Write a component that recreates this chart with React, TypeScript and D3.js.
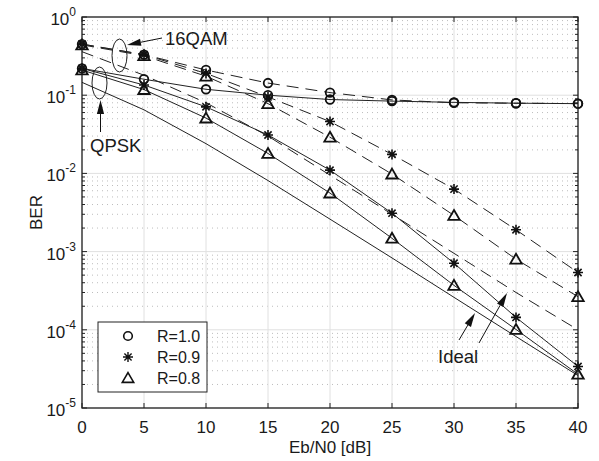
import * as d3 from "d3";
import { useEffect, useRef } from "react";

// Eb/N0 points (dB)
const ebn0 = [0, 5, 10, 15, 20, 25, 30, 35, 40];

// 16QAM (dashed)
const qam16R10 = [0.45, 0.33, 0.21, 0.143, 0.108, 0.087, 0.08, 0.079, 0.078];
const qam16R09 = [0.45, 0.33, 0.19, 0.095, 0.046, 0.0175, 0.0063, 0.0019, 0.00054];
const qam16R08 = [0.44, 0.32, 0.175, 0.078, 0.029, 0.0098, 0.0029, 0.0008, 0.000265];
const qam16Ideal = [0.36, 0.18, 0.08, 0.03, 0.0095, 0.003, 0.00095, 0.0003, 0.0001];

// QPSK (solid)
const qpskR10 = [0.22, 0.16, 0.119, 0.1, 0.088, 0.084, 0.081, 0.079, 0.078];
const qpskR09 = [0.22, 0.135, 0.071, 0.031, 0.011, 0.0031, 0.00071, 0.000144, 0.000034];
const qpskR08 = [0.21, 0.118, 0.051, 0.018, 0.0056, 0.00148, 0.00037, 0.000101, 0.000027];
const qpskIdeal = [0.146, 0.065, 0.024, 0.0081, 0.0026, 0.00083, 0.00026, 0.000082, 0.000026];

const xTicks = [0, 5, 10, 15, 20, 25, 30, 35, 40];
const yExponents = [0, -1, -2, -3, -4, -5];
const legendLabels = ["R=1.0", "R=0.9", "R=0.8"];

const W = 599;
const H = 461;
const margin = { top: 17, bottom: 53, left: 82, right: 21 };
const FONT = "'Liberation Sans', Arial, Helvetica, sans-serif";

const circlePath = (r: number) => d3.symbol().type(d3.symbolCircle).size(Math.PI * r * r)();
const starPath = (s: number) => {
  const d = s * 0.72;
  return `M${-s},0L${s},0M0,${-s}L0,${s}M${-d},${-d}L${d},${d}M${-d},${d}L${d},${-d}`;
};
const triPath = (s: number) => `M0,${-s * 1.05}L${s * 1.1},${s * 0.85}L${-s * 1.1},${s * 0.85}Z`;

const markerPath = (kind: string) =>
  kind === "o" ? circlePath(4.3) : kind === "*" ? starPath(5) : triPath(5.2);

const App = () => {
  const chartRef = useRef<SVGSVGElement | null>(null);

  useEffect(() => {
    const svg = d3.select(chartRef.current);
    svg.selectAll("*").remove();

    const x0 = margin.left;
    const x1 = W - margin.right;
    const y0 = H - margin.bottom;
    const y1 = margin.top;

    const scaleX = d3.scaleLinear().domain([0, 40]).range([x0, x1]);
    const scaleY = d3.scaleLog().domain([1e-5, 1]).range([y0, y1]);

    // white background
    svg.append("rect").attr("width", W).attr("height", H).attr("fill", "#fff");

    // minor grid (dotted)
    const minorVals: number[] = [];
    for (let e = -5; e < 0; e++) for (let k = 2; k <= 9; k++) minorVals.push(k * Math.pow(10, e));
    svg.append("g").selectAll("line").data(minorVals).enter().append("line")
      .attr("x1", x0).attr("x2", x1)
      .attr("y1", d => scaleY(d)).attr("y2", d => scaleY(d))
      .attr("stroke", "#bdbdbd").attr("stroke-width", 1)
      .attr("stroke-dasharray", "1,4");

    // major grid
    svg.append("g").selectAll("line").data(xTicks.slice(1, -1)).enter().append("line")
      .attr("x1", d => scaleX(d)).attr("x2", d => scaleX(d))
      .attr("y1", y0).attr("y2", y1)
      .attr("stroke", "#e0e0e0").attr("stroke-width", 1);
    svg.append("g").selectAll("line").data(yExponents.slice(1, -1)).enter().append("line")
      .attr("x1", x0).attr("x2", x1)
      .attr("y1", d => scaleY(Math.pow(10, d))).attr("y2", d => scaleY(Math.pow(10, d)))
      .attr("stroke", "#e0e0e0").attr("stroke-width", 1);

    // data lines
    const line = d3.line<number>()
      .x((_, i) => scaleX(ebn0[i]))
      .y(d => scaleY(d));

    const series = [
      { v: qam16R10, dash: true, m: "o" },
      { v: qam16R09, dash: true, m: "*" },
      { v: qam16R08, dash: true, m: "^" },
      { v: qam16Ideal, dash: true, m: "" },
      { v: qpskR10, dash: false, m: "o" },
      { v: qpskR09, dash: false, m: "*" },
      { v: qpskR08, dash: false, m: "^" },
      { v: qpskIdeal, dash: false, m: "" },
    ];

    const plot = svg.append("g");
    series.forEach(s => {
      plot.append("path")
        .attr("d", line(s.v))
        .attr("fill", "none")
        .attr("stroke", "#222")
        .attr("stroke-width", 1)
        .attr("stroke-dasharray", s.dash ? "12,7" : null);
    });
    series.forEach(s => {
      if (!s.m) return;
      plot.selectAll(null).data(s.v).enter().append("path")
        .attr("d", markerPath(s.m))
        .attr("transform", (d, i) => `translate(${scaleX(ebn0[i])},${scaleY(d)})`)
        .attr("fill", "none")
        .attr("stroke", "#111")
        .attr("stroke-width", s.m === "*" ? 1.6 : 1.8);
    });

    // axes box
    svg.append("rect")
      .attr("x", x0).attr("y", y1).attr("width", x1 - x0).attr("height", y0 - y1)
      .attr("fill", "none").attr("stroke", "#1a1a1a").attr("stroke-width", 1.3);

    // ticks
    const tk = svg.append("g").attr("stroke", "#222").attr("stroke-width", 1);
    xTicks.forEach(t => {
      tk.append("line").attr("x1", scaleX(t)).attr("x2", scaleX(t)).attr("y1", y0).attr("y2", y0 - 5);
      tk.append("line").attr("x1", scaleX(t)).attr("x2", scaleX(t)).attr("y1", y1).attr("y2", y1 + 5);
    });
    yExponents.forEach(e => {
      const y = scaleY(Math.pow(10, e));
      tk.append("line").attr("x1", x0).attr("x2", x0 + 5).attr("y1", y).attr("y2", y);
      tk.append("line").attr("x1", x1).attr("x2", x1 - 5).attr("y1", y).attr("y2", y);
    });
    minorVals.forEach(v => {
      const y = scaleY(v);
      tk.append("line").attr("x1", x0).attr("x2", x0 + 3).attr("y1", y).attr("y2", y);
      tk.append("line").attr("x1", x1).attr("x2", x1 - 3).attr("y1", y).attr("y2", y);
    });

    // tick labels
    const lbl = svg.append("g").attr("font-family", FONT).attr("fill", "#1a1a1a");
    xTicks.forEach(t => {
      lbl.append("text").attr("x", scaleX(t)).attr("y", y0 + 25)
        .attr("text-anchor", "middle").attr("font-size", 17).text(t);
    });
    yExponents.forEach(e => {
      const y = scaleY(Math.pow(10, e));
      const txt = lbl.append("text").attr("x", x0 - 6).attr("y", y + 8)
        .attr("text-anchor", "end").attr("font-size", 17);
      txt.append("tspan").text("10");
      txt.append("tspan").attr("dy", -9).attr("font-size", 12).text(`${e}`);
    });

    // axis titles
    lbl.append("text").attr("x", (x0 + x1) / 2).attr("y", 453)
      .attr("text-anchor", "middle").attr("font-size", 17).text("Eb/N0 [dB]");
    lbl.append("text")
      .attr("transform", `translate(42,${(y0 + y1) / 2}) rotate(-90)`)
      .attr("text-anchor", "middle").attr("font-size", 17).text("BER");

    // legend
    const lg = svg.append("g");
    lg.append("rect").attr("x", 98).attr("y", 322).attr("width", 109).attr("height", 70)
      .attr("fill", "#fff").attr("stroke", "#222").attr("stroke-width", 1);
    ["o", "*", "^"].forEach((m, i) => {
      const yy = 336 + i * 21;
      lg.append("path").attr("d", markerPath(m))
        .attr("transform", `translate(128,${yy})`)
        .attr("fill", "none").attr("stroke", "#111").attr("stroke-width", m === "*" ? 1.4 : 1.6);
      lg.append("text").attr("x", 157).attr("y", yy + 6)
        .attr("font-family", FONT).attr("font-size", 16).attr("fill", "#1a1a1a")
        .text(legendLabels[i]);
    });

    // annotations
    const ann = svg.append("g");
    const arrow = (xa: number, ya: number, xb: number, yb: number) => {
      // line from (xa,ya) to tip (xb,yb) with filled head
      const ang = Math.atan2(yb - ya, xb - xa);
      const len = 14, half = 3.6;
      const bx = xb - len * Math.cos(ang), by = yb - len * Math.sin(ang);
      const px = -Math.sin(ang) * half, py = Math.cos(ang) * half;
      ann.append("line").attr("x1", xa).attr("y1", ya).attr("x2", bx).attr("y2", by)
        .attr("stroke", "#111").attr("stroke-width", 1);
      ann.append("path")
        .attr("d", `M${xb},${yb}L${bx + px},${by + py}L${bx - px},${by - py}Z`)
        .attr("fill", "#111");
    };

    ann.append("ellipse").attr("cx", 119.5).attr("cy", 55.5).attr("rx", 7.5).attr("ry", 16.5)
      .attr("fill", "none").attr("stroke", "#222").attr("stroke-width", 1);
    ann.append("ellipse").attr("cx", 99.5).attr("cy", 83).attr("rx", 7.5).attr("ry", 16)
      .attr("fill", "none").attr("stroke", "#222").attr("stroke-width", 1);

    arrow(162, 38, 127, 45);
    arrow(100.5, 132, 100.5, 100);
    arrow(459, 340, 475, 313);
    arrow(479, 343, 507, 293);

    const at = svg.append("g").attr("font-family", FONT).attr("font-size", 18.5).attr("fill", "#1a1a1a");
    at.append("text").attr("x", 165).attr("y", 45).text("16QAM");
    at.append("text").attr("x", 90).attr("y", 152).text("QPSK");
    at.append("text").attr("x", 438).attr("y", 363).text("Ideal");
  }, []);

  return (
    <svg
      ref={chartRef}
      width={W}
      height={H}
      style={{ position: "absolute", left: 0, top: 0, display: "block" }}
    ></svg>
  );
};

export default App;
